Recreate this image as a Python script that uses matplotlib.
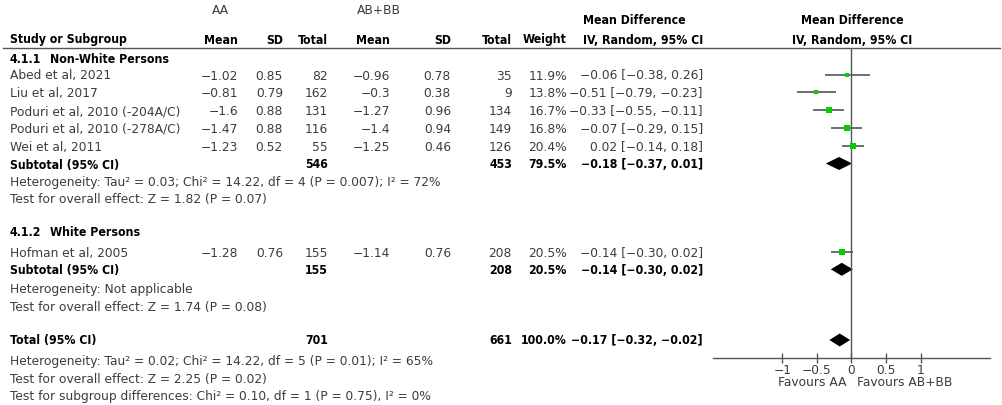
import matplotlib
matplotlib.use("Agg")
import matplotlib.pyplot as plt
from matplotlib import font_manager

plt.rcParams['font.family'] = ['DejaVu Sans']

# ---------------- data ----------------
studies = ["Abed et al, 2021", "Liu et al, 2017", "Poduri et al, 2010 (-204A/C)",
           "Poduri et al, 2010 (-278A/C)", "Wei et al, 2011", "Hofman et al, 2005"]
study_group = [0, 0, 0, 0, 0, 1]
aa_mean = [-1.02, -0.81, -1.6, -1.47, -1.23, -1.28]
aa_sd = [0.85, 0.79, 0.88, 0.88, 0.52, 0.76]
aa_total = [82, 162, 131, 116, 55, 155]
bb_mean = [-0.96, -0.3, -1.27, -1.4, -1.25, -1.14]
bb_sd = [0.78, 0.38, 0.96, 0.94, 0.46, 0.76]
bb_total = [35, 9, 134, 149, 126, 208]
weights = [11.9, 13.8, 16.7, 16.8, 20.4, 20.5]
md = [-0.06, -0.51, -0.33, -0.07, 0.02, -0.14]
ci_lo = [-0.38, -0.79, -0.55, -0.29, -0.14, -0.30]
ci_hi = [0.26, -0.23, -0.11, 0.15, 0.18, 0.02]

group_codes = ["4.1.1", "4.1.2"]
group_names = ["Non-White Persons", "White Persons"]
sub_aa_total = [546, 155]
sub_bb_total = [453, 208]
sub_weight = [79.5, 20.5]
sub_md = [-0.18, -0.14]
sub_lo = [-0.37, -0.30]
sub_hi = [0.01, 0.02]
sub_notes = [
    ["Heterogeneity: Tau² = 0.03; Chi² = 14.22, df = 4 (P = 0.007); I² = 72%",
     "Test for overall effect: Z = 1.82 (P = 0.07)"],
    ["Heterogeneity: Not applicable",
     "Test for overall effect: Z = 1.74 (P = 0.08)"],
]
tot_aa_total = 701
tot_bb_total = 661
tot_weight = 100.0
tot_md = -0.17
tot_lo = -0.32
tot_hi = -0.02
tot_notes = ["Heterogeneity: Tau² = 0.02; Chi² = 14.22, df = 5 (P = 0.01); I² = 65%",
             "Test for overall effect: Z = 2.25 (P = 0.02)",
             "Test for subgroup differences: Chi² = 0.10, df = 1 (P = 0.75), I² = 0%"]

x_ticks = [-1, -0.5, 0, 0.5, 1]
x_ticklabels = ["−1", "−0.5", "0", "0.5", "1"]
favours_left = "Favours AA"
favours_right = "Favours AB+BB"

# ---------------- fonts ----------------
FS = 8.8
# prefer a condensed bold face if one is installed, otherwise shrink the bold slightly
_cond = [f for f in font_manager.fontManager.ttflist
         if f.name == 'DejaVu Sans' and f.weight in (700, 'bold') and 'ondensed' in f.fname
         and 'blique' not in f.fname]
if _cond:
    BOLD_KW = dict(fontproperties=font_manager.FontProperties(fname=_cond[0].fname, size=FS))
else:
    BOLD_KW = dict(fontsize=8.2, fontweight='bold')
REG = '#3c3c3c'
BLK = '#000000'
BASE = 5.0  # baseline offset below row centre

# ---------------- layout ----------------
W, H = 1003, 405
fig = plt.figure(figsize=(W / 100, H / 100), dpi=100)
bg = fig.add_axes([0, 0, 1, 1])
bg.set_xlim(0, W)
bg.set_ylim(H, 0)
bg.axis('off')

def fmt(v, spec):
    return format(v, spec).replace('-', '−')

def ci_text(m, lo, hi):
    return f"{fmt(m, '.2f')} [{fmt(lo, '.2f')}, {fmt(hi, '.2f')}]"

def put(x, y, s, ha='left', bold=False, va='baseline'):
    yy = y + BASE if va == 'baseline' else y
    if bold:
        bg.text(x, yy, s, ha=ha, va=va, color=BLK, **BOLD_KW)
    else:
        bg.text(x, yy, s, ha=ha, va=va, fontsize=FS, color=REG)

# column right edges
X_NAME = 10
X_AM, X_AS, X_AT = 238, 283, 328
X_BM, X_BS, X_BT = 390, 451, 512
X_W, X_CI = 567, 703

# headers
put(220, 11, "AA", ha='center', va='center')
put(379, 11, "AB+BB", ha='center', va='center')
put(634, 21, "Mean Difference", ha='center', va='center', bold=True)
put(852, 21, "Mean Difference", ha='center', va='center', bold=True)
hy = 38.5
put(X_NAME, hy, "Study or Subgroup", bold=True)
for x, s in [(X_AM, "Mean"), (X_AS, "SD"), (X_AT, "Total"), (X_BM, "Mean"),
             (X_BS, "SD"), (X_BT, "Total"), (X_W, "Weight"), (X_CI, "IV, Random, 95% CI")]:
    put(x, hy, s, ha='right', bold=True)
put(852, hy, "IV, Random, 95% CI", ha='center', bold=True)
bg.plot([3, 1000], [48.3, 48.3], color='#555555', lw=1.0)

# forest axes: y in same pixel-row units as the table
AX_TOP, AX_BOT = 48.3, 357.5
AX_L, AX_R = 713, 990
fx = fig.add_axes([AX_L / W, 1 - AX_BOT / H, (AX_R - AX_L) / W, (AX_BOT - AX_TOP) / H])
fx.set_xlim(-2, 2)
fx.set_ylim(AX_BOT, AX_TOP)
fx.patch.set_alpha(0)
for s in ['left', 'right', 'top']:
    fx.spines[s].set_visible(False)
fx.spines['bottom'].set_color('#555555')
fx.spines['bottom'].set_linewidth(1.0)
fx.set_yticks([])
fx.set_xticks(x_ticks)
fx.set_xticklabels(x_ticklabels, fontsize=FS, color=REG)
fx.tick_params(axis='x', direction='inout', length=7, width=1, color='#555555', pad=1)
fx.axvline(0, color='#555555', lw=1.0)

def diamond(y, m, lo, hi, h=6.5):
    fx.fill([lo, m, hi, m], [y, y - h, y, y + h], color='black', lw=0)

# group rows
group_header_y = [58, 231.5]
study_rows = {0: [74.5, 92.3, 110.1, 127.9, 145.7], 1: [252.3]}
sub_row_y = [163.5, 269.3]
note_rows = [[181.0, 198.5], [287.5, 306.0]]

for g in range(2):
    put(X_NAME, group_header_y[g], group_codes[g], bold=True)
    put(50, group_header_y[g], group_names[g], bold=True)
    idx = [i for i, sg in enumerate(study_group) if sg == g]
    for i, y in zip(idx, study_rows[g]):
        put(X_NAME, y, studies[i])
        put(X_AM, y, fmt(aa_mean[i], 'g'), ha='right')
        put(X_AS, y, fmt(aa_sd[i], 'g'), ha='right')
        put(X_AT, y, str(aa_total[i]), ha='right')
        put(X_BM, y, fmt(bb_mean[i], 'g'), ha='right')
        put(X_BS, y, fmt(bb_sd[i], 'g'), ha='right')
        put(X_BT, y, str(bb_total[i]), ha='right')
        put(X_W, y, f"{weights[i]:.1f}%", ha='right')
        put(X_CI, y, ci_text(md[i], ci_lo[i], ci_hi[i]), ha='right')
        fx.plot([ci_lo[i], ci_hi[i]], [y, y], color='#555555', lw=1.2, solid_capstyle='butt')
        fx.plot([md[i]], [y], marker='s', color='#00d000', markersize=0.95 * weights[i] ** 0.5,
                markeredgewidth=0, linestyle='none')
    sy = sub_row_y[g]
    put(X_NAME, sy, "Subtotal (95% CI)", bold=True)
    put(X_AT, sy, str(sub_aa_total[g]), ha='right', bold=True)
    put(X_BT, sy, str(sub_bb_total[g]), ha='right', bold=True)
    put(X_W, sy, f"{sub_weight[g]:.1f}%", ha='right', bold=True)
    put(X_CI, sy, ci_text(sub_md[g], sub_lo[g], sub_hi[g]), ha='right', bold=True)
    diamond(sy, sub_md[g], sub_lo[g], sub_hi[g])
    for s, y in zip(sub_notes[g], note_rows[g]):
        put(X_NAME, y, s)

ty = 339.0
put(X_NAME, ty, "Total (95% CI)", bold=True)
put(X_AT, ty, str(tot_aa_total), ha='right', bold=True)
put(X_BT, ty, str(tot_bb_total), ha='right', bold=True)
put(X_W, ty, f"{tot_weight:.1f}%", ha='right', bold=True)
put(X_CI, ty, ci_text(tot_md, tot_lo, tot_hi), ha='right', bold=True)
diamond(340, tot_md, tot_lo, tot_hi)
for s, y in zip(tot_notes, [359.5, 377.5, 395.0]):
    put(X_NAME, y, s)

put(847, 383, favours_left, ha='right', va='center')
put(857, 383, favours_right, ha='left', va='center')

fig.savefig("out.png", dpi=100)
